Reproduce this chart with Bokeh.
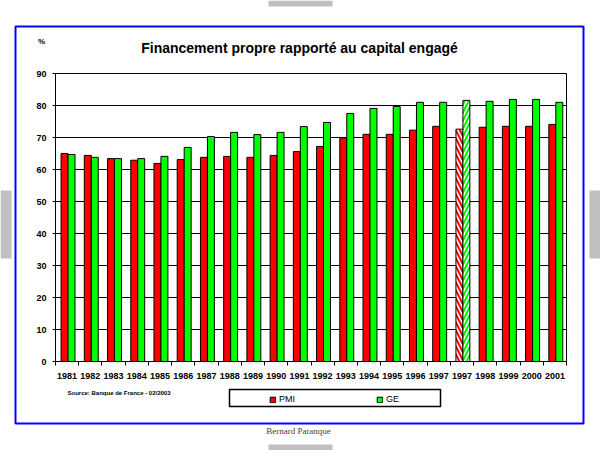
from bokeh.plotting import figure
from bokeh.models import (ColumnDataSource, Label, BoxAnnotation, FixedTicker,
                          Legend, LegendItem, Range1d, LinearAxis)
from bokeh.embed import file_html
from bokeh.resources import INLINE

# ---------------- data ----------------
years = ["1981", "1982", "1983", "1984", "1985", "1986", "1987", "1988", "1989",
         "1990", "1991", "1992", "1993", "1994", "1995", "1996", "1997", "1997",
         "1998", "1999", "2000", "2001"]
pmi = [65.0, 64.4, 63.4, 62.9, 61.9, 63.1, 63.8, 64.1, 63.8, 64.4, 65.6,
       67.2, 69.8, 71.0, 71.0, 72.3, 73.5, 72.6, 73.2, 73.5, 73.5, 74.1]
ge = [64.7, 63.8, 63.4, 63.4, 64.1, 66.9, 70.3, 71.6, 70.9, 71.6, 73.4,
      74.7, 77.5, 79.1, 79.7, 81.0, 81.0, 81.6, 81.3, 81.9, 81.9, 81.0]
hatched_index = 17          # second "1997" bar pair is hatched
y_ticks = [0, 10, 20, 30, 40, 50, 60, 70, 80, 90]
series_names = ["PMI", "GE"]
title_text = "Financement propre rapporté au capital engagé"
unit_text = "%"
source_text = "Source: Banque de France - 02/2003"
author_text = "Bernard Paranque"

# ---------------- geometry (page pixels) ----------------
W, H = 600, 450
PLOT_L, PLOT_R, PLOT_T, PLOT_B = 55, 566, 73, 361
n = len(years)
y_max = y_ticks[-1]
px_per_cat = (PLOT_R - PLOT_L) / n
px_per_unit = (PLOT_B - PLOT_T) / y_max


def sx(px):
    return px


def sy(py):
    return H - py


def screen_box(l, r, t, b, **kw):
    return BoxAnnotation(left=sx(l), right=sx(r), top=sy(t), bottom=sy(b),
                         left_units="screen", right_units="screen",
                         top_units="screen", bottom_units="screen", **kw)


p = figure(width=W, height=H, output_backend="svg", toolbar_location=None,
           title=None,
           x_range=Range1d(-PLOT_L / px_per_cat, (W - PLOT_L) / px_per_cat),
           y_range=Range1d(-(H - PLOT_B) / px_per_unit, PLOT_B / px_per_unit),
           min_border=0, min_border_left=0, min_border_right=0,
           min_border_top=0, min_border_bottom=0)
p.background_fill_color = "white"
p.border_fill_color = "white"
p.outline_line_color = None

# ---------------- decorations behind ----------------
p.add_layout(screen_box(15, 583, 26, 423, fill_color=None, line_color="#0000ff",
                        line_alpha=1, line_width=2, level="underlay"))
for (l, r, t, b) in [(0, 11, 190, 258), (589, 600, 190, 258),
                     (268, 332, 0, 6), (268, 332, 444, 450)]:
    p.add_layout(screen_box(l, r, t, b, fill_color="#c0c0c0", fill_alpha=1,
                            line_color=None, level="underlay"))

# ---------------- grid ----------------
grid = p.ygrid[0]
grid.ticker = FixedTicker(ticks=y_ticks)
grid.grid_line_color = "black"
grid.grid_line_alpha = 1
grid.grid_line_width = 1
if "cross_bounds" in grid.properties():
    grid.cross_bounds = (0, n)
else:
    grid.visible = False
    p.segment(x0=[0] * len(y_ticks), x1=[n] * len(y_ticks), y0=y_ticks,
              y1=y_ticks, line_color="black", line_width=1)
p.xgrid.visible = False

# ---------------- bars ----------------
src = ColumnDataSource(dict(
    xr=[i + 0.39 for i in range(n)],
    xg=[i + 0.69 for i in range(n)],
    pmi=pmi, ge=ge,
    pmi_fill=["white" if i == hatched_index else "#ff0000" for i in range(n)],
    ge_fill=["white" if i == hatched_index else "#00ff00" for i in range(n)],
    hatch=["\\" if i == hatched_index else " " for i in range(n)],
    hatch2=["/" if i == hatched_index else " " for i in range(n)],
))
r_pmi = p.vbar(x="xr", top="pmi", width=0.3, bottom=0, source=src,
               fill_color="pmi_fill", line_color="black", line_width=1,
               hatch_pattern="hatch", hatch_color="#ff0000", hatch_scale=8,
               hatch_weight=2)
r_ge = p.vbar(x="xg", top="ge", width=0.3, bottom=0, source=src,
              fill_color="ge_fill", line_color="black", line_width=1,
              hatch_pattern="hatch2", hatch_color="#00ee00", hatch_scale=8,
              hatch_weight=2)

# ---------------- axes ----------------
xa = p.xaxis[0]
xa.fixed_location = 0
xa.bounds = (0, n)
xa.ticker = FixedTicker(ticks=[i + 0.5 for i in range(n)],
                        minor_ticks=list(range(n + 1)))
xa.major_label_overrides = {i + 0.5: years[i] for i in range(n)}
xa.axis_line_color = "black"
xa.major_tick_out = 0
xa.major_tick_in = 0
xa.minor_tick_out = 4
xa.minor_tick_in = 0
xa.minor_tick_line_color = "black"
xa.major_label_standoff = 7
xa.major_label_text_font = "Liberation Sans"
xa.major_label_text_font_size = "9px"
xa.major_label_text_font_style = "bold"
xa.major_label_text_color = "black"

ya = p.yaxis[0]
ya.fixed_location = 0
ya.bounds = (0, y_max)
ya.ticker = FixedTicker(ticks=y_ticks, minor_ticks=[])
ya.axis_line_color = "black"
ya.major_tick_out = 3
ya.major_tick_in = 0
ya.major_tick_line_color = "black"
ya.minor_tick_line_color = None
ya.major_label_standoff = 6
ya.major_label_text_font = "Liberation Sans"
ya.major_label_text_font_size = "9px"
ya.major_label_text_font_style = "bold"
ya.major_label_text_color = "black"

# right border of the plot box
ra = LinearAxis(fixed_location=n, bounds=(0, y_max),
                ticker=FixedTicker(ticks=[]), major_tick_line_color=None,
                minor_tick_line_color=None, major_label_text_alpha=0,
                axis_line_color="black")
p.add_layout(ra, "right")

# ---------------- texts ----------------
p.add_layout(Label(x=sx(299), y=sy(47), x_units="screen", y_units="screen",
                   text=title_text, text_align="center", text_baseline="middle",
                   text_font="Liberation Sans", text_font_size="14px",
                   text_font_style="bold", text_color="black"))
p.add_layout(Label(x=sx(41), y=sy(41), x_units="screen", y_units="screen",
                   text=unit_text, text_align="center", text_baseline="middle",
                   text_font="Liberation Sans", text_font_size="8px",
                   text_font_style="bold", text_color="black"))
p.add_layout(Label(x=sx(67), y=sy(392), x_units="screen", y_units="screen",
                   text=source_text, text_align="left", text_baseline="middle",
                   text_font="Liberation Sans", text_font_size="6px",
                   text_font_style="bold", text_color="black"))
p.add_layout(Label(x=sx(298), y=sy(430), x_units="screen", y_units="screen",
                   text=author_text, text_align="center", text_baseline="middle",
                   text_font="Liberation Serif", text_font_size="9px",
                   text_color="#444444"))

# ---------------- legend ----------------
p.add_layout(screen_box(229, 440, 389, 406, fill_color="white", fill_alpha=1,
                        line_color="black", line_alpha=1, line_width=1.5))
legend = Legend(items=[LegendItem(label=series_names[0], renderers=[r_pmi]),
                       LegendItem(label=series_names[1], renderers=[r_ge])],
                location=(sx(269), sy(404)), orientation="horizontal",
                padding=0, margin=0, spacing=57, glyph_width=7, glyph_height=7,
                label_standoff=3, label_width=40, label_height=9,
                border_line_color=None, background_fill_alpha=0,
                label_text_font="Liberation Sans", label_text_font_size="9px",
                label_text_color="black")
p.add_layout(legend)

open("out.html", "w").write(file_html(p, INLINE))
